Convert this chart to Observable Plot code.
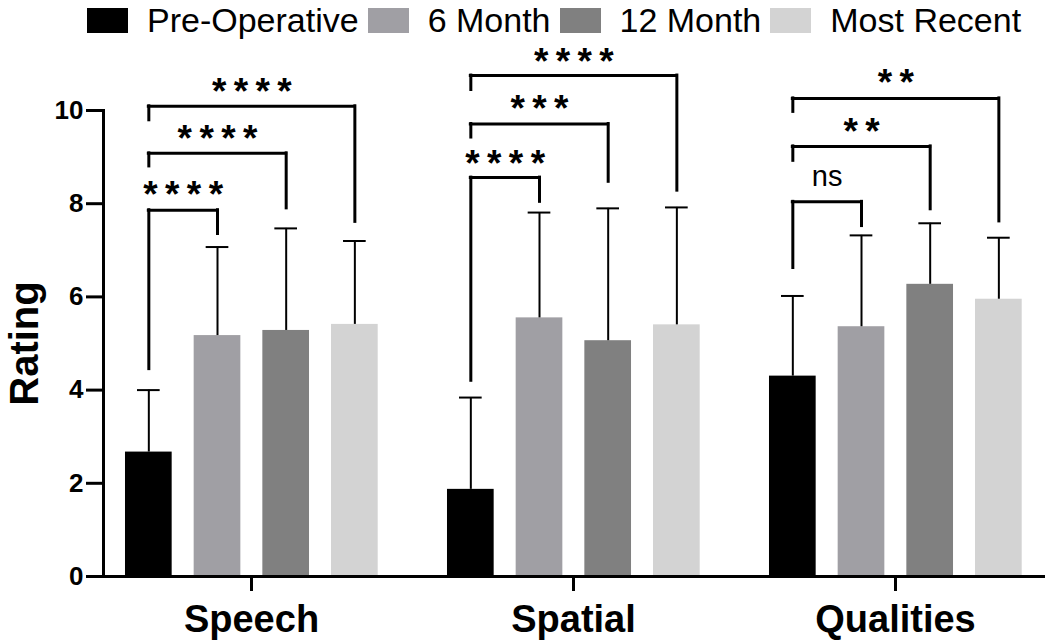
<!DOCTYPE html>
<html><head><meta charset="utf-8">
<script src="https://cdn.jsdelivr.net/npm/d3@7"></script>
<script src="https://cdn.jsdelivr.net/npm/@observablehq/plot@0.6"></script>
<style>
body{margin:0;background:#fff;font-family:"Liberation Sans",Arial,sans-serif;}
#legend{display:flex;align-items:center;height:40px;padding-left:87px;box-sizing:border-box;width:1050px;}
.item{display:flex;align-items:center;margin-right:9px;}
.sw{width:41px;height:25px;margin-right:19px;}
.lb{font-size:34px;line-height:36px;color:#000;white-space:nowrap;}
</style></head><body>
<div id="legend"></div><div id="chart"></div>
<script>
// ---- data ----
const groups = ["Speech", "Spatial", "Qualities"];
const series = ["Pre-Operative", "6 Month", "12 Month", "Most Recent"];
const colors = ["#000000", "#a09fa4", "#808080", "#d3d3d3"];
const yTicks = [0, 2, 4, 6, 8, 10];
// mean rating per group (rows) and series (columns)
const means = [
  [2.67, 5.17, 5.28, 5.41],
  [1.87, 5.55, 5.06, 5.40],
  [4.30, 5.36, 6.27, 5.95]
];
// mean + SD (top of error bar)
const sdTop = [
  [4.00, 7.07, 7.47, 7.20],
  [3.84, 7.81, 7.90, 7.92],
  [6.02, 7.32, 7.58, 7.27]
];
// significance comparisons: Pre-Operative vs each target
const compTargets = ["6 Month", "12 Month", "Most Recent"];
const sigLabels = [
  ["****", "****", "****"],
  ["****", "***", "****"],
  ["ns", "**", "**"]
];
const bracketTop = [
  [7.86, 9.08, 10.09],
  [8.56, 9.71, 10.75],
  [8.04, 9.23, 10.26]
];
const leftLegEnd = [
  [4.45, 8.80, 9.79],
  [4.20, 9.42, 10.44],
  [6.62, 8.92, 9.97]
];
const rightLegEnd = [
  [7.35, 7.90, 7.61],
  [8.04, 8.47, 8.28],
  [7.52, 7.88, 7.62]
];
const labelY = [
  [8.37, 9.57, 10.58],
  [9.04, 10.22, 11.23],
  [8.61, 9.72, 10.77]
];

// ---- legend ----
const legend = document.getElementById("legend");
series.forEach((s, i) => {
  const it = document.createElement("div"); it.className = "item";
  const sw = document.createElement("div"); sw.className = "sw"; sw.style.background = colors[i];
  const lb = document.createElement("span"); lb.className = "lb"; lb.textContent = s;
  it.appendChild(sw); it.appendChild(lb); legend.appendChild(it);
});

// ---- tables ----
const rows = groups.flatMap((g, gi) => series.map((s, si) => ({
  group: g, series: s, i: si, mean: means[gi][si], sd: sdTop[gi][si]
})));
const brackets = groups.flatMap((g, gi) => compTargets.map((t, ti) => ({
  group: g, from: 0, to: series.indexOf(t),
  top: bracketTop[gi][ti], leftEnd: leftLegEnd[gi][ti], rightEnd: rightLegEnd[gi][ti],
  label: sigLabels[gi][ti], labelY: labelY[gi][ti]
})));

const chart = Plot.plot({
  width: 1050, height: 604,
  marginLeft: 102, marginRight: 5, marginTop: 70, marginBottom: 68,
  style: {fontFamily: "Liberation Sans, Arial, sans-serif", background: "#fff", overflow: "visible", color: "#000"},
  fx: {domain: groups, paddingInner: 0.08, paddingOuter: 0, label: null},
  x: {domain: [-0.16, 4.15], axis: null},
  y: {domain: [0, 10]},
  color: {domain: series, range: colors},
  marks: [
    Plot.rect(rows, {fx: "group", x1: "i", x2: d => d.i + 1, y1: 0, y2: "mean", fill: "series", insetLeft: 11, insetRight: 11}),
    Plot.ruleX(rows, {fx: "group", x: d => d.i + 0.5, y1: "mean", y2: "sd", stroke: "#000", strokeWidth: 2}),
    Plot.ruleY(rows, {fx: "group", y: "sd", x1: "i", x2: d => d.i + 1, insetLeft: 23, insetRight: 23, stroke: "#000", strokeWidth: 2}),
    Plot.ruleY(brackets, {fx: "group", y: "top", x1: d => d.from + 0.5, x2: d => d.to + 0.5, stroke: "#000", strokeWidth: 3, strokeLinecap: "square"}),
    Plot.ruleX(brackets, {fx: "group", x: d => d.from + 0.5, y1: "top", y2: "leftEnd", stroke: "#000", strokeWidth: 3, strokeLinecap: "square"}),
    Plot.ruleX(brackets, {fx: "group", x: d => d.to + 0.5, y1: "top", y2: "rightEnd", stroke: "#000", strokeWidth: 3, strokeLinecap: "square"}),
    Plot.text(brackets, {filter: d => d.label !== "ns", fx: "group", x: d => (d.from + d.to) / 2 + 0.5, y: "labelY",
      text: d => d.label.split("").join("\u2009"), fontSize: 37, fontWeight: "bold", dy: 9, fill: "#000"}),
    Plot.text(brackets, {filter: d => d.label === "ns", fx: "group", x: d => (d.from + d.to) / 2 + 0.5, y: "labelY",
      text: "label", fontSize: 29, dy: 1, fill: "#000"}),
    Plot.axisY({ticks: yTicks, tickSize: 17, tickPadding: 3, fontSize: 26, fontWeight: "bold", strokeWidth: 3, label: null, tickFormat: d => String(d)}),
    Plot.axisY({ticks: [], label: "Rating", labelAnchor: "center", labelArrow: "none", labelOffset: 94, fontSize: 40, fontWeight: "bold"}),
    Plot.axisFx({anchor: "bottom", tickSize: 15, tickPadding: 14, fontSize: 38, fontWeight: "bold", strokeWidth: 3, label: null}),
    Plot.frame({anchor: "left", facet: "super", strokeWidth: 3}),
    Plot.frame({anchor: "bottom", facet: "super", strokeWidth: 3})
  ]
});
document.getElementById("chart").appendChild(chart);
</script></body></html>
